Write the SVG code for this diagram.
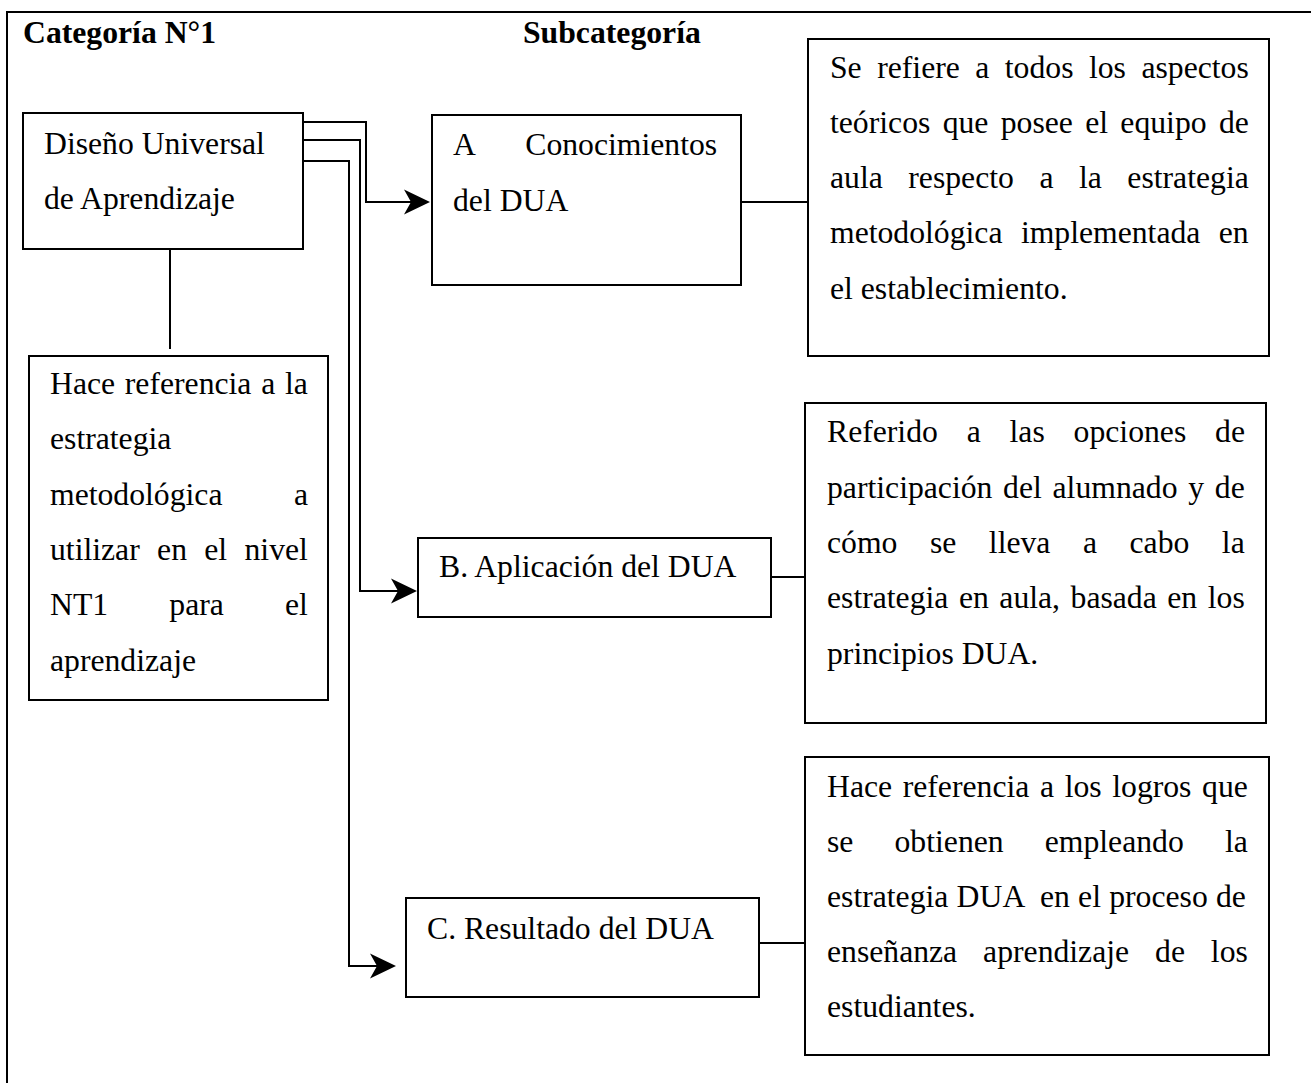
<svg xmlns="http://www.w3.org/2000/svg" width="1311" height="1083" viewBox="0 0 1311 1083">
<style>
.frame { fill: none; stroke: #000; stroke-width: 2; }
.box { fill: #fff; stroke: #000; stroke-width: 2; }
.t { font-family: "Liberation Serif", "Times New Roman", serif; font-size: 31.7px; fill: #000; }
.h { font-weight: bold; }
.ln { fill: none; stroke: #000; stroke-width: 2; }
.arr { marker-end: url(#ah); }
</style>
<defs>
<marker id="ah" viewBox="0 0 26 26" refX="7" refY="13" markerWidth="26" markerHeight="26" markerUnits="userSpaceOnUse" orient="auto">
<path d="M0,0.5 L26,13 L0,25.5 L7,13 Z" fill="#000"/>
</marker>
</defs>
<rect width="1311" height="1083" fill="#fff"/>
<rect class="frame" x="7" y="12" width="1320" height="1090"/>
<text class="t h" x="23" y="43">Categoría N°1</text>
<text class="t h" x="523" y="43">Subcategoría</text>

<g id="connectors">
<path class="ln arr" d="M301,122 H366 V202 H411"/>
<path class="ln arr" d="M303,140 H360 V591 H398"/>
<path class="ln arr" d="M303,161 H349 V966 H377"/>
<path class="ln" d="M170,249 V349"/>
<path class="ln" d="M741,202 H807"/>
<path class="ln" d="M771,577 H806"/>
<path class="ln" d="M759,943 H808"/>
</g>

<g id="node-dua">
<rect class="box" x="23" y="113" width="280" height="136"/>
<text class="t" x="44" y="154">Diseño Universal</text>
<text class="t" x="44" y="209">de Aprendizaje</text>
</g>

<g id="node-def">
<rect class="box" x="29" y="356" width="299" height="344"/>
<text class="t" x="50" y="394" style="word-spacing:1.8px">Hace referencia a la</text>
<text class="t" x="50" y="449">estrategia</text>
<text class="t" x="50" y="505" style="word-spacing:63.5px">metodológica a</text>
<text class="t" x="50" y="560" style="word-spacing:9.4px">utilizar en el nivel</text>
<text class="t" x="50" y="615" style="word-spacing:53.3px">NT1 para el</text>
<text class="t" x="50" y="671">aprendizaje</text>
</g>

<g id="node-a">
<rect class="box" x="432" y="115" width="309" height="170"/>
<text class="t" x="453" y="155" style="word-spacing:43.2px">A Conocimientos</text>
<text class="t" x="453" y="211">del DUA</text>
</g>

<g id="node-b">
<rect class="box" x="418" y="538" width="353" height="79"/>
<text class="t" x="439" y="577">B. Aplicación del DUA</text>
</g>

<g id="node-c">
<rect class="box" x="406" y="898" width="353" height="99"/>
<text class="t" x="427" y="939">C. Resultado del DUA</text>
</g>

<g id="desc-a">
<rect class="box" x="808" y="39" width="461" height="317"/>
<text class="t" x="830" y="78" style="word-spacing:7.55px">Se refiere a todos los aspectos</text>
<text class="t" x="830" y="133" style="word-spacing:4.4px">teóricos que posee el equipo de</text>
<text class="t" x="830" y="188" style="word-spacing:17.6px">aula respecto a la estrategia</text>
<text class="t" x="830" y="243" style="word-spacing:10.5px">metodológica implementada en</text>
<text class="t" x="830" y="299">el establecimiento.</text>
</g>

<g id="desc-b">
<rect class="box" x="805" y="403" width="461" height="320"/>
<text class="t" x="827" y="442" style="word-spacing:20.9px">Referido a las opciones de</text>
<text class="t" x="827" y="498" style="word-spacing:2.8px">participación del alumnado y de</text>
<text class="t" x="827" y="553" style="word-spacing:24.6px">cómo se lleva a cabo la</text>
<text class="t" x="827" y="608" style="word-spacing:2.6px">estrategia en aula, basada en los</text>
<text class="t" x="827" y="664">principios DUA.</text>
</g>

<g id="desc-c">
<rect class="box" x="805" y="757" width="464" height="298"/>
<text class="t" x="827" y="797" style="word-spacing:2.7px">Hace referencia a los logros que</text>
<text class="t" x="827" y="852" style="word-spacing:33.2px">se obtienen empleando la</text>
<text class="t" x="827" y="907" xml:space="preserve" style="white-space:pre;word-spacing:0.3px">estrategia DUA  en el proceso de</text>
<text class="t" x="827" y="962" style="word-spacing:18px">enseñanza aprendizaje de los</text>
<text class="t" x="827" y="1017">estudiantes.</text>
</g>
</svg>
